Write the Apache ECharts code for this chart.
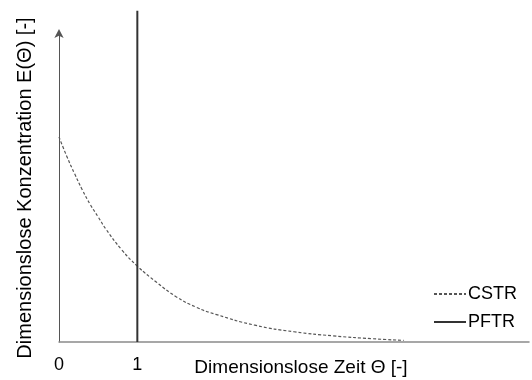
<!DOCTYPE html>
<html><head><meta charset="utf-8">
<script src="https://cdn.jsdelivr.net/npm/echarts@6/dist/echarts.min.js"></script>
<style>html,body{margin:0;padding:0;background:#fff}#c{width:532px;height:380px}</style>
</head><body><div id="c"></div>
<script>
var thetaCSTR = [0, 0.1, 0.2, 0.3, 0.4, 0.5, 0.6, 0.8, 1.0, 1.25, 1.5, 1.75, 2.0, 2.5, 3.0, 3.5, 4.0, 4.4];
var eCSTR = [1.0, 0.905, 0.82, 0.74, 0.67, 0.61, 0.55, 0.45, 0.37, 0.29, 0.22, 0.17, 0.135, 0.082, 0.05, 0.03, 0.016, 0.008];
var thetaPFTR = [1, 1];
var ePFTR = [0, 1.615];
var xTickLabels = ['0', '1'];
var xMax = 6;
var yMax = 1.507;

var font = '"Liberation Sans", Arial, sans-serif';
var chart = echarts.init(document.getElementById('c'), null, {renderer: 'canvas'});
chart.setOption({
  animation: false,
  backgroundColor: '#fff',
  grid: {left: 59, right: 0, top: 33, bottom: 38, containLabel: false},
  xAxis: {
    type: 'value', min: 0, max: xMax, interval: 1,
    axisLine: {show: true, lineStyle: {color: '#8a8a8a', width: 1.5}},
    axisTick: {show: false}, splitLine: {show: false},
    axisLabel: {
      margin: 14, color: '#000', fontSize: 18, fontFamily: font,
      formatter: function (v) { var i = Math.round(v); return (i < xTickLabels.length && Math.abs(v - i) < 1e-9) ? xTickLabels[i] : ''; }
    }
  },
  yAxis: {
    type: 'value', min: 0, max: yMax,
    axisLine: {show: true, symbol: ['none', 'arrow'], symbolSize: [7, 9], symbolOffset: [0, 4],
      lineStyle: {color: '#555', width: 1}},
    axisTick: {show: false}, splitLine: {show: false}, axisLabel: {show: false}
  },
  legend: {
    orient: 'vertical', right: 10, top: 280, itemWidth: 32, itemHeight: 20, itemGap: 10,
    itemStyle: {opacity: 0},
    textStyle: {color: '#000', fontSize: 18, fontFamily: font, padding: [0, 0, 0, -3]},
    data: ['CSTR', 'PFTR']
  },
  graphic: [
    {type: 'text', x: 25, y: 188, rotation: Math.PI / 2,
     style: {text: 'Dimensionslose Konzentration E(Θ) [-]', fill: '#000', font: '20px ' + font, align: 'center', verticalAlign: 'middle'}},
    {type: 'text', x: 301, y: 368,
     style: {text: 'Dimensionslose Zeit Θ [-]', fill: '#000', font: '19px ' + font, align: 'center', verticalAlign: 'middle'}}
  ],
  series: [
    {
      name: 'CSTR', type: 'line', smooth: true, symbol: 'none', showSymbol: false,
      lineStyle: {color: '#555', width: 1.2, type: [3, 2]},
      itemStyle: {color: '#555'},
      data: thetaCSTR.map(function (t, i) { return [t, eCSTR[i]]; })
    },
    {
      name: 'PFTR', type: 'line', symbol: 'none', showSymbol: false, clip: false,
      lineStyle: {color: '#333', width: 2},
      itemStyle: {color: '#555'},
      data: thetaPFTR.map(function (t, i) { return [t, ePFTR[i]]; })
    }
  ]
});
</script></body></html>
